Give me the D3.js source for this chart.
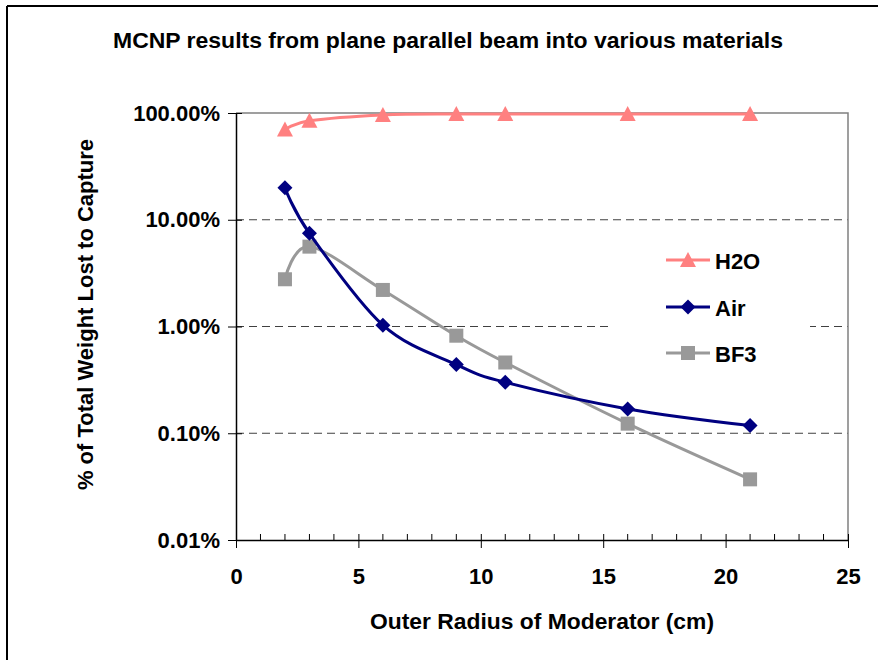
<!DOCTYPE html>
<html>
<head>
<meta charset="utf-8">
<script src="https://cdn.jsdelivr.net/npm/d3@7/dist/d3.min.js"></script>
<style>
  html, body { margin: 0; padding: 0; background: #fff; }
  text { font-family: "Liberation Sans", Arial, sans-serif; font-weight: bold; fill: #000; }
</style>
</head>
<body>
<svg id="chart" width="878" height="660"></svg>
<script>
// ---- data ----
const radius = [2, 3, 6, 9, 11, 16, 21];
const h2o = [0.70, 0.845, 0.96, 0.978, 0.98, 0.98, 0.98];
const air = [0.199, 0.0746, 0.0103, 0.0044, 0.0030, 0.00169, 0.00118];
const bf3 = [0.0277, 0.056, 0.0220, 0.0082, 0.0046, 0.00123, 0.00037];
const seriesNames = ["H2O", "Air", "BF3"];
const xTickValues = [0, 5, 10, 15, 20, 25];
const yTickValues = [0.0001, 0.001, 0.01, 0.1, 1];
const yTickLabels = ["0.01%", "0.10%", "1.00%", "10.00%", "100.00%"];
const titleText = "MCNP results from plane parallel beam into various materials";
const xTitle = "Outer Radius of Moderator (cm)";
const yTitle = "% of Total Weight Lost to Capture";

const series = [
  { name: seriesNames[0], values: h2o, color: "#FF8080", marker: "triangle" },
  { name: seriesNames[1], values: air, color: "#000080", marker: "diamond" },
  { name: seriesNames[2], values: bf3, color: "#999999", marker: "square" }
];

const svg = d3.select("#chart");
const L = 236, R = 848, T = 113, B = 540;

const x = d3.scaleLinear().domain([0, 25]).range([L, R]);
const y = d3.scaleLog().domain([0.0001, 1]).range([B, T]);

// chart area border (top & left visible)
svg.append("line").attr("x1", 7).attr("y1", 6).attr("x2", 878).attr("y2", 6)
  .attr("stroke", "#000").attr("stroke-width", 2);
svg.append("line").attr("x1", 7).attr("y1", 6).attr("x2", 7).attr("y2", 660)
  .attr("stroke", "#000").attr("stroke-width", 2);

// title
svg.append("text").attr("x", 448).attr("y", 48).attr("text-anchor", "middle")
  .style("font-size", "22px").attr("textLength", 670).attr("lengthAdjust", "spacingAndGlyphs")
  .text(titleText);

// gridlines
svg.append("g").selectAll("line").data(yTickValues.slice(1, 4)).join("line")
  .attr("x1", L).attr("x2", R).attr("y1", d => y(d)).attr("y2", d => y(d))
  .attr("stroke", "#404040").attr("stroke-width", 1).attr("stroke-dasharray", "8,5");

// plot area border (top, right)
svg.append("path").attr("d", `M${L},${T}H${R}V${B}`).attr("fill", "none")
  .attr("stroke", "#808080").attr("stroke-width", 1.5);

// y axis
const yAxis = d3.axisLeft(y).tickValues(yTickValues)
  .tickFormat((d, i) => yTickLabels[i]).tickSizeInner(8).tickSizeOuter(0).tickPadding(8);
const gy = svg.append("g").attr("transform", `translate(${L},0)`).call(yAxis);
gy.select(".domain").attr("stroke", "#000").attr("stroke-width", 1.5);
gy.selectAll(".tick line").attr("stroke", "#000").attr("x2", -8).attr("x1", 6);
gy.selectAll(".tick text").style("font-size", "22px").style("font-family", '"Liberation Sans", Arial, sans-serif')
  .style("font-weight", "bold").attr("x", -16);

// x axis
const xAxis = d3.axisBottom(x).tickValues(xTickValues).tickFormat(d3.format("d"))
  .tickSizeInner(8).tickSizeOuter(0).tickPadding(20);
const gx = svg.append("g").attr("transform", `translate(0,${B})`).call(xAxis);
gx.select(".domain").attr("stroke", "#000").attr("stroke-width", 1.5);
gx.selectAll(".tick line").attr("stroke", "#000").attr("y1", -6).attr("y2", 8);
gx.selectAll(".tick text").style("font-size", "22px").style("font-family", '"Liberation Sans", Arial, sans-serif')
  .style("font-weight", "bold");
// minor ticks
svg.append("g").selectAll("line").data(d3.range(1, 25).filter(d => d % 5 !== 0)).join("line")
  .attr("x1", d => x(d)).attr("x2", d => x(d)).attr("y1", B - 6).attr("y2", B)
  .attr("stroke", "#000").attr("stroke-width", 1);

// axis titles
svg.append("text").attr("x", 542).attr("y", 629).attr("text-anchor", "middle")
  .style("font-size", "22px").attr("textLength", 344).attr("lengthAdjust", "spacingAndGlyphs").text(xTitle);
svg.append("text").attr("transform", `translate(93,${(T + B) / 2 - 12}) rotate(-90)`)
  .attr("text-anchor", "middle").style("font-size", "22px").text(yTitle);

// marker generator
function drawMarker(g, type, color, cx, cy) {
  if (type === "triangle") {
    g.append("path").attr("d", `M${cx},${cy - 8}L${cx + 8},${cy + 7}L${cx - 8},${cy + 7}Z`).attr("fill", color);
  } else if (type === "diamond") {
    g.append("path").attr("d", `M${cx},${cy - 7.5}L${cx + 7.5},${cy}L${cx},${cy + 7.5}L${cx - 7.5},${cy}Z`).attr("fill", color);
  } else {
    g.append("rect").attr("x", cx - 7).attr("y", cy - 7).attr("width", 14).attr("height", 14).attr("fill", color);
  }
}

const line = d3.line().x(d => x(d[0])).y(d => y(d[1])).curve(d3.curveCardinal.tension(0));

// legend background
svg.append("rect").attr("x", 613).attr("y", 236).attr("width", 197).attr("height", 142).attr("fill", "#fff");

const plotG = svg.append("g");
[series[2], series[1], series[0]].forEach(s => {
  const pts = radius.map((r, i) => [r, s.values[i]]);
  plotG.append("path").datum(pts).attr("d", line).attr("fill", "none")
    .attr("stroke", s.color).attr("stroke-width", 3);
  pts.forEach(p => drawMarker(plotG, s.marker, s.color, x(p[0]), y(p[1])));
});

// legend
const legY = [260, 307, 353];
series.forEach((s, i) => {
  const g = svg.append("g");
  g.append("line").attr("x1", 666).attr("x2", 710).attr("y1", legY[i]).attr("y2", legY[i])
    .attr("stroke", s.color).attr("stroke-width", 3);
  drawMarker(g, s.marker, s.color, 688, legY[i]);
  g.append("text").attr("x", 715).attr("y", legY[i] + 9).style("font-size", "22px").text(s.name);
});
</script>
</body>
</html>
